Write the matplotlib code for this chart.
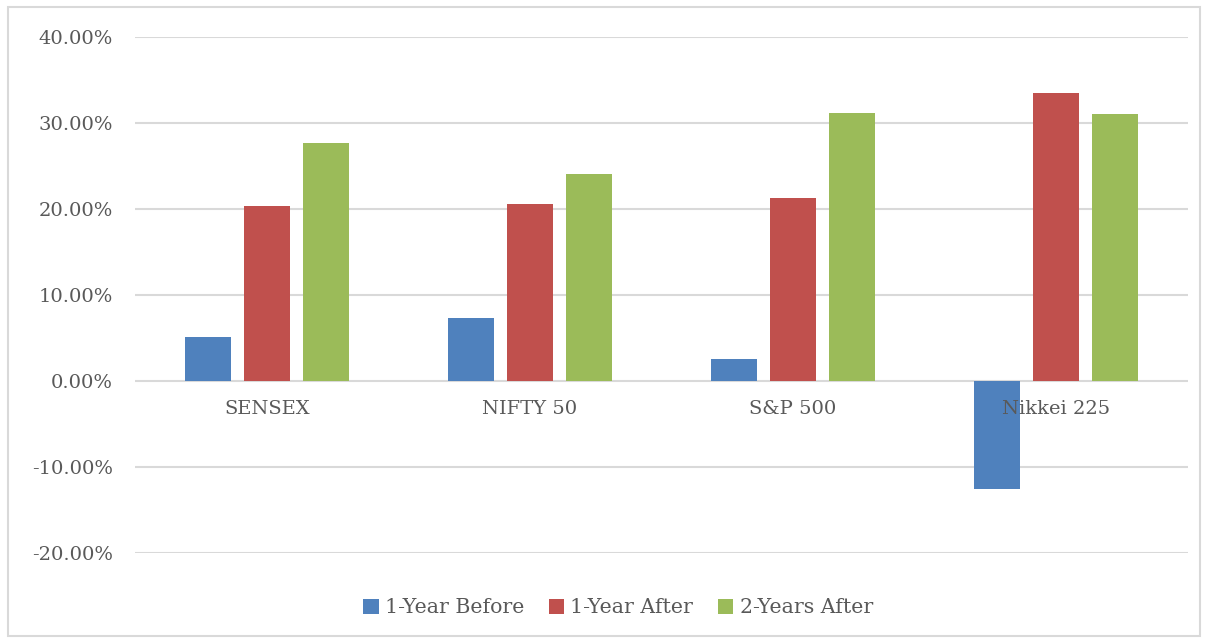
import numpy as np
import matplotlib
matplotlib.use("Agg")
import matplotlib.pyplot as plt
from matplotlib.patches import Rectangle
from matplotlib.ticker import FuncFormatter

# Index returns around the event (fractions)
categories = ["SENSEX", "NIFTY 50", "S&P 500", "Nikkei 225"]
before_1y = [0.051, 0.073, 0.0255, -0.1255]
after_1y = [0.2035, 0.206, 0.213, 0.335]
after_2y = [0.277, 0.241, 0.312, 0.310]
series_names = ["1-Year Before", "1-Year After", "2-Years After"]
colors = ["#4f81bd", "#c0504d", "#9bbb59"]

plt.rcParams['font.family'] = ['DejaVu Serif']
text_color = "#595959"
grid_color = "#d9d9d9"

fig = plt.figure(figsize=(12.07, 6.39), dpi=100)
ax = fig.add_axes([0.112, 0.135, 0.872, 0.807])

# Outer chart border
fig.patches.append(Rectangle((8 / 1207, 0.004), 1192 / 1207, 1 - 7 / 639 - 0.004,
                             transform=fig.transFigure, fill=False,
                             edgecolor=grid_color, linewidth=1.5))

x = np.arange(len(categories))
w = 0.175
step = 0.225
for i, (vals, name) in enumerate(zip([before_1y, after_1y, after_2y], series_names)):
    ax.bar(x + (i - 1) * step, vals, w, color=colors[i], label=name, zorder=3)

ax.set_xlim(-0.5, len(categories) - 0.5)
ax.set_ylim(-0.2, 0.4)
yticks = np.arange(-0.2, 0.41, 0.1)
ax.set_yticks(yticks)
ax.yaxis.set_major_formatter(FuncFormatter(lambda v, p: f"{v * 100:.2f}%"))
# gridlines behind bars, category labels above them
for yv in yticks:
    ax.axhline(yv, color=grid_color, linewidth=1.5, zorder=0)

for s in ["top", "right", "left", "bottom"]:
    ax.spines[s].set_visible(False)
ax.spines["bottom"].set_position(("data", 0))
ax.xaxis.set_zorder(5)

ax.set_xticks(x)
ax.set_xticklabels(categories)
ax.tick_params(axis="x", length=0, pad=14, labelsize=14, labelcolor=text_color)
ax.tick_params(axis="y", length=0, pad=16, labelsize=14, labelcolor=text_color)

fig.legend(loc="lower center", bbox_to_anchor=(0.512, 0.005), ncol=3, frameon=False,
           fontsize=14.8, labelcolor=text_color, handlelength=0.75, handleheight=0.75,
           handletextpad=0.3, columnspacing=1.2)

fig.savefig("out.png", dpi=100)
